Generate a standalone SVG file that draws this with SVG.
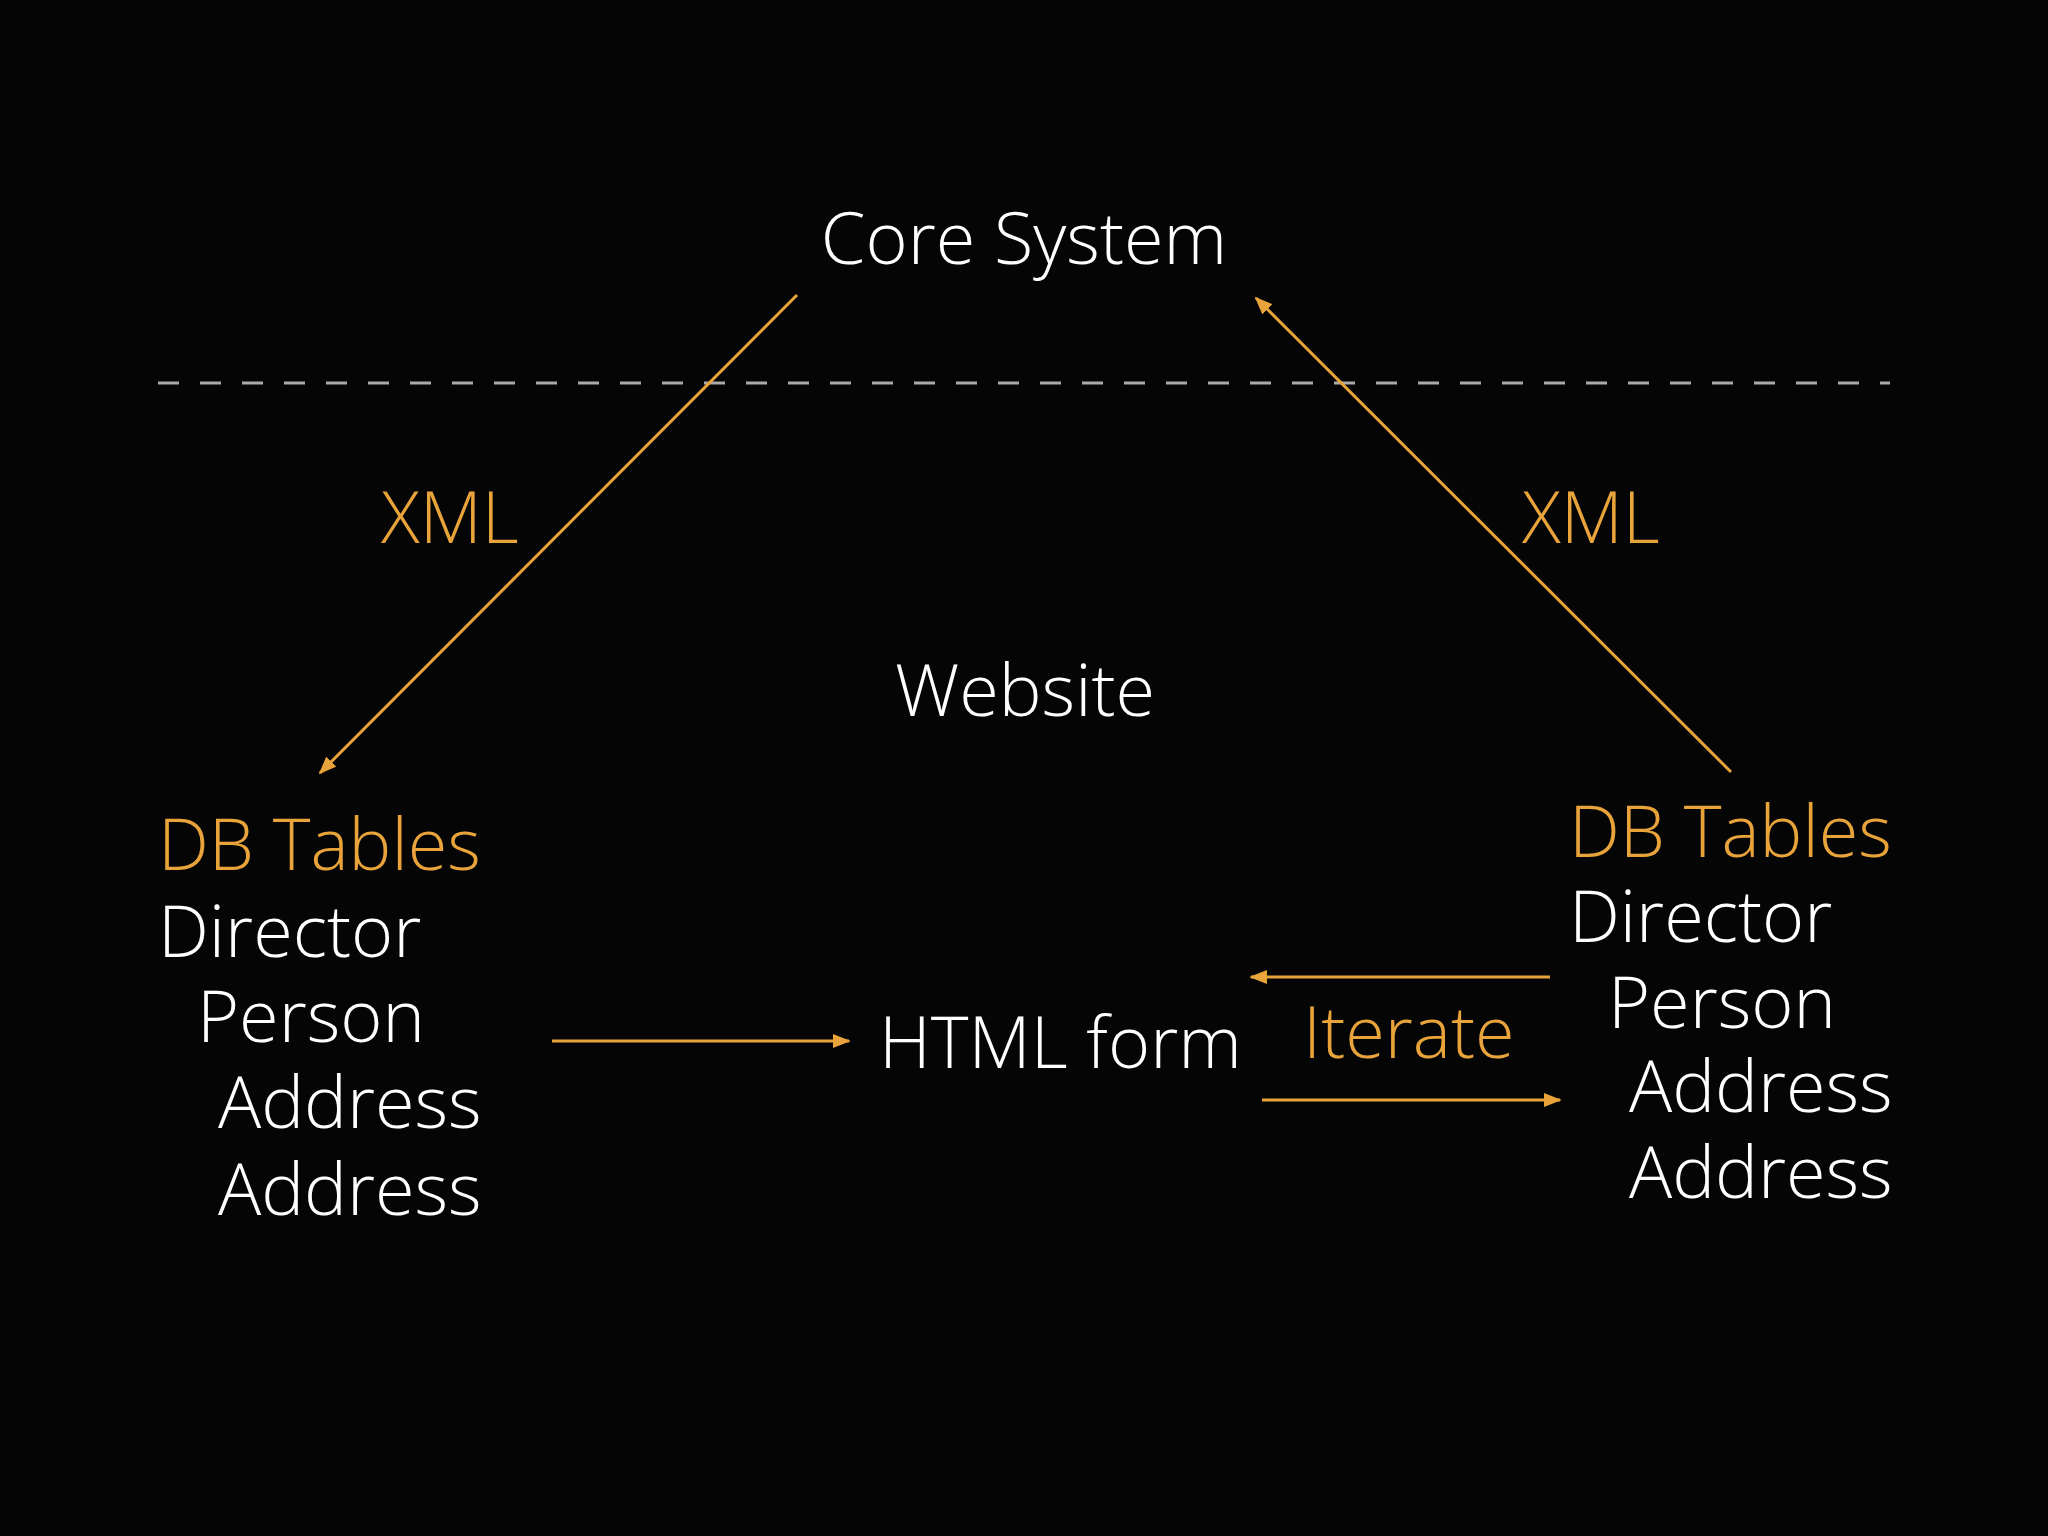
<svg xmlns="http://www.w3.org/2000/svg" width="2048" height="1536" viewBox="0 0 2048 1536">
<defs>
<marker id="ah" viewBox="0 0 10 10" refX="9" refY="5" markerWidth="6" markerHeight="6" orient="auto" markerUnits="strokeWidth"><path d="M0,1 L10,5 L0,9 z" fill="#E8A33A"/></marker>
<style>
text{font-family:"Open Sans","Liberation Sans",sans-serif;font-weight:300;font-size:72px}
.w{fill:#ffffff}.o{fill:#E8A33A}
.c{stroke:#E8A33A;stroke-width:3;fill:none;marker-end:url(#ah)}
</style>
</defs>
<rect width="2048" height="1536" fill="#050505"/>
<line x1="158" y1="383" x2="1890" y2="383" stroke="#aaaaaa" stroke-width="3" stroke-dasharray="21 21"/>
<g id="core"><text class="w" x="1024" y="264" text-anchor="middle">Core System</text></g>
<g id="website"><text class="w" x="1025" y="716" text-anchor="middle">Website</text></g>
<g id="dbleft">
<text class="o" x="158" y="870">DB Tables</text>
<text class="w" x="158" y="957">Director</text>
<text class="w" x="197" y="1042">Person</text>
<text class="w" x="218" y="1128">Address</text>
<text class="w" x="218" y="1215">Address</text>
</g>
<g id="dbright">
<text class="o" x="1569" y="857">DB Tables</text>
<text class="w" x="1569" y="942">Director</text>
<text class="w" x="1608" y="1028">Person</text>
<text class="w" x="1629" y="1112">Address</text>
<text class="w" x="1629" y="1198">Address</text>
</g>
<g id="html"><text class="w" x="879" y="1068">HTML form</text></g>
<g id="connectors">
<line class="c" x1="797" y1="295" x2="320" y2="773"/>
<line class="c" x1="1731" y1="772" x2="1256" y2="298"/>
<line class="c" x1="552" y1="1041" x2="849" y2="1041"/>
<line class="c" x1="1550" y1="977" x2="1251" y2="977"/>
<line class="c" x1="1262" y1="1100" x2="1560" y2="1100"/>
<text class="o" x="381" y="543">XML</text>
<text class="o" x="1522" y="543">XML</text>
<text class="o" x="1303" y="1058">Iterate</text>
</g>
</svg>
